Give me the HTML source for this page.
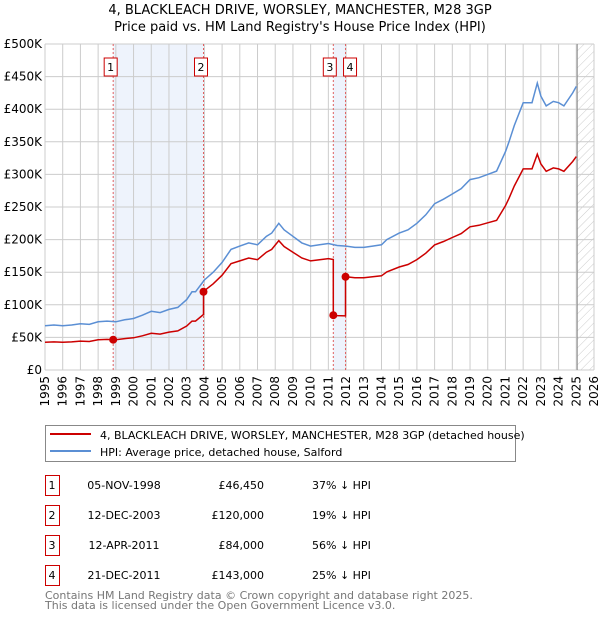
<!DOCTYPE html>
<html><head><meta charset="utf-8"><style>
body{margin:0;background:#fff;width:600px;height:620px;overflow:hidden;font-family:"DejaVu Sans","Liberation Sans",sans-serif}
svg{position:absolute;left:0;top:0}
</style></head><body>
<svg id="chart" width="600" height="620" font-family="DejaVu Sans, Liberation Sans, sans-serif">
<text x="300" y="14" text-anchor="middle" font-size="13">4, BLACKLEACH DRIVE, WORSLEY, MANCHESTER, M28 3GP</text>
<text x="300" y="31" text-anchor="middle" font-size="13">Price paid vs. HM Land Registry's House Price Index (HPI)</text>
<defs><pattern id="hatch" width="6" height="6" patternUnits="userSpaceOnUse" patternTransform="rotate(45)"><line x1="0" y1="0" x2="0" y2="6" stroke="#ccc" stroke-width="1"/></pattern></defs>
<g id="plot"></g>
<g>
<rect x="45.5" y="425.5" width="470" height="36" fill="#fff" stroke="#888"/>
<line x1="50" y1="434" x2="91" y2="434" stroke="#cc0000" stroke-width="2"/>
<text x="100" y="439" font-size="11">4, BLACKLEACH DRIVE, WORSLEY, MANCHESTER, M28 3GP (detached house)</text>
<line x1="50" y1="451" x2="91" y2="451" stroke="#5b8fd4" stroke-width="2"/>
<text x="100" y="456" font-size="11">HPI: Average price, detached house, Salford</text>
</g>
<g id="table" font-size="11"></g>
<text x="45" y="599" font-size="11" fill="#777">Contains HM Land Registry data © Crown copyright and database right 2025.</text>
<text x="45" y="609" font-size="11" fill="#777">This data is licensed under the Open Government Licence v3.0.</text>
</svg>
<script>
const hpiYears=[1995,1995.5,1996,1996.5,1997,1997.5,1998,1998.5,1999,1999.5,2000,2000.5,2001,2001.5,2002,2002.5,2003,2003.3,2003.5,2004,2004.5,2005,2005.5,2006,2006.5,2007,2007.5,2007.8,2008.2,2008.5,2009,2009.5,2010,2010.5,2011,2011.5,2012,2012.5,2013,2013.5,2014,2014.3,2015,2015.5,2016,2016.5,2017,2017.5,2018,2018.5,2019,2019.5,2020,2020.5,2021,2021.2,2021.5,2022,2022.5,2022.8,2023,2023.3,2023.7,2024,2024.3,2024.8,2025];
const hpiValues=[68000,69000,68000,69000,71000,70000,74000,75000,74000,77000,79000,84000,90000,88000,93000,96000,108000,120000,120000,138000,150000,165000,185000,190000,195000,192000,205000,210000,225000,215000,205000,195000,190000,192000,194000,191000,190000,188000,188000,190000,192000,200000,210000,215000,225000,238000,255000,262000,270000,278000,292000,295000,300000,305000,335000,350000,375000,410000,410000,440000,420000,405000,412000,410000,405000,425000,435000];
const saleDates=[1998.85,2003.95,2011.28,2011.97];
const salePrices=[46450,120000,84000,143000];
const saleLabels=["1","2","3","4"];
const saleDateText=["05-NOV-1998","12-DEC-2003","12-APR-2011","21-DEC-2011"];
const salePriceText=["£46,450","£120,000","£84,000","£143,000"];
const salePctText=["37% ↓ HPI","19% ↓ HPI","56% ↓ HPI","25% ↓ HPI"];
const yTicks=[0,50000,100000,150000,200000,250000,300000,350000,400000,450000,500000];
const yTickLabels=["£0","£50K","£100K","£150K","£200K","£250K","£300K","£350K","£400K","£450K","£500K"];
const xTicks=[1995,1996,1997,1998,1999,2000,2001,2002,2003,2004,2005,2006,2007,2008,2009,2010,2011,2012,2013,2014,2015,2016,2017,2018,2019,2020,2021,2022,2023,2024,2025,2026];

const X0=45,X1=594,Y0=370,Y1=44;
const xs=t=>X0+(t-1995)/(2026-1995)*(X1-X0);
const ys=v=>Y0-v/500000*(Y0-Y1);
const NS="http://www.w3.org/2000/svg";
const plot=document.getElementById('plot');
function mk(tag,attrs,parent){const e=document.createElementNS(NS,tag);for(const k in attrs)e.setAttribute(k,attrs[k]);(parent||plot).appendChild(e);return e;}
function hpiAt(t){if(t<=hpiYears[0])return hpiValues[0];for(let i=1;i<hpiYears.length;i++){if(t<=hpiYears[i]){const f=(t-hpiYears[i-1])/(hpiYears[i]-hpiYears[i-1]);return hpiValues[i-1]+f*(hpiValues[i]-hpiValues[i-1]);}}return hpiValues[hpiValues.length-1];}

for(let i=0;i<saleDates.length;i+=2){
 const r=mk('rect',{x:xs(saleDates[i]),y:Y1,width:xs(saleDates[i+1])-xs(saleDates[i]),height:Y0-Y1,fill:'#eef3fc'});
 
 
}
const hz=mk('rect',{x:xs(2025.05),y:Y1,width:X1-xs(2025.05),height:Y0-Y1,fill:'url(#hatch)'});


xTicks.forEach((t,i)=>{
 const l=mk('line',{x1:xs(t),x2:xs(t),y1:Y1,y2:Y0,stroke:'#ccc','stroke-width':1});
 
 
 const tx=mk('text',{x:0,y:0,'font-size':12,'text-anchor':'end',transform:`translate(${xs(t)+4},${Y0+6}) rotate(-90)`});
 tx.textContent=t;
 
 
});
yTicks.forEach((v,i)=>{
 const l=mk('line',{x1:X0,x2:X1,y1:ys(v),y2:ys(v),stroke:'#ccc','stroke-width':1});
 
 
 const tx=mk('text',{x:X0-3,y:ys(v)+4,'font-size':12,'text-anchor':'end'});
 tx.textContent=yTickLabels[i];
 
 
});
const nl=mk('line',{x1:xs(2025.05),x2:xs(2025.05),y1:Y1,y2:Y0,stroke:'#888','stroke-width':1});


const boxOffsets=[-9,-9,-10,-2];
saleDates.forEach((d,i)=>{
 const l=mk('line',{x1:xs(d),x2:xs(d),y1:Y1,y2:Y0,stroke:'#e06060','stroke-width':1,'stroke-dasharray':'2,2'});
 
 
 const bx=xs(d)+boxOffsets[i];
 const r=mk('rect',{x:bx,y:58,width:13,height:18,fill:'#fff',stroke:'#cc0000'});
 
 
 const t=mk('text',{x:bx+6.5,y:71,'font-size':11,'text-anchor':'middle'});
 t.textContent=saleLabels[i];
 
 
});
let pts=[];
hpiYears.forEach((t,i)=>pts.push(xs(t).toFixed(1)+','+ys(hpiValues[i]).toFixed(1)));
const hl=mk('polyline',{points:pts.join(' '),fill:'none',stroke:'#5b8fd4','stroke-width':1.5});


function ratioAt(t){let k=0;for(let i=0;i<saleDates.length;i++)if(t>=saleDates[i])k=i;return salePrices[k]/hpiAt(saleDates[k]);}
let times=hpiYears.slice();saleDates.forEach(d=>{times.push(d-0.001);times.push(d);});
times.sort((a,b)=>a-b);
const rp=times.map(t=>xs(t).toFixed(1)+','+ys(hpiAt(t)*ratioAt(t)).toFixed(1));
const pl=mk('polyline',{points:rp.join(' '),fill:'none',stroke:'#cc0000','stroke-width':1.5});


saleDates.forEach((d,i)=>{
 const c=mk('circle',{cx:xs(d),cy:ys(salePrices[i]),r:4,fill:'#cc0000'});
 
 
});
const tb=document.getElementById('table');
saleLabels.forEach((s,i)=>{
 const y=475+i*30;
 const r=mk('rect',{x:45.5,y:y+0.5,width:14,height:20,fill:'#fff',stroke:'#cc0000'},tb);
 
 
 const vals=[[s,52,'middle'],[saleDateText[i],124,'middle'],[salePriceText[i],264,'end'],[salePctText[i],312,'start']];
 vals.forEach(v=>{const t=mk('text',{x:v[1],y:y+14,'text-anchor':v[2]},tb);t.textContent=v[0];
  
  });
});
</script>
</body></html>
